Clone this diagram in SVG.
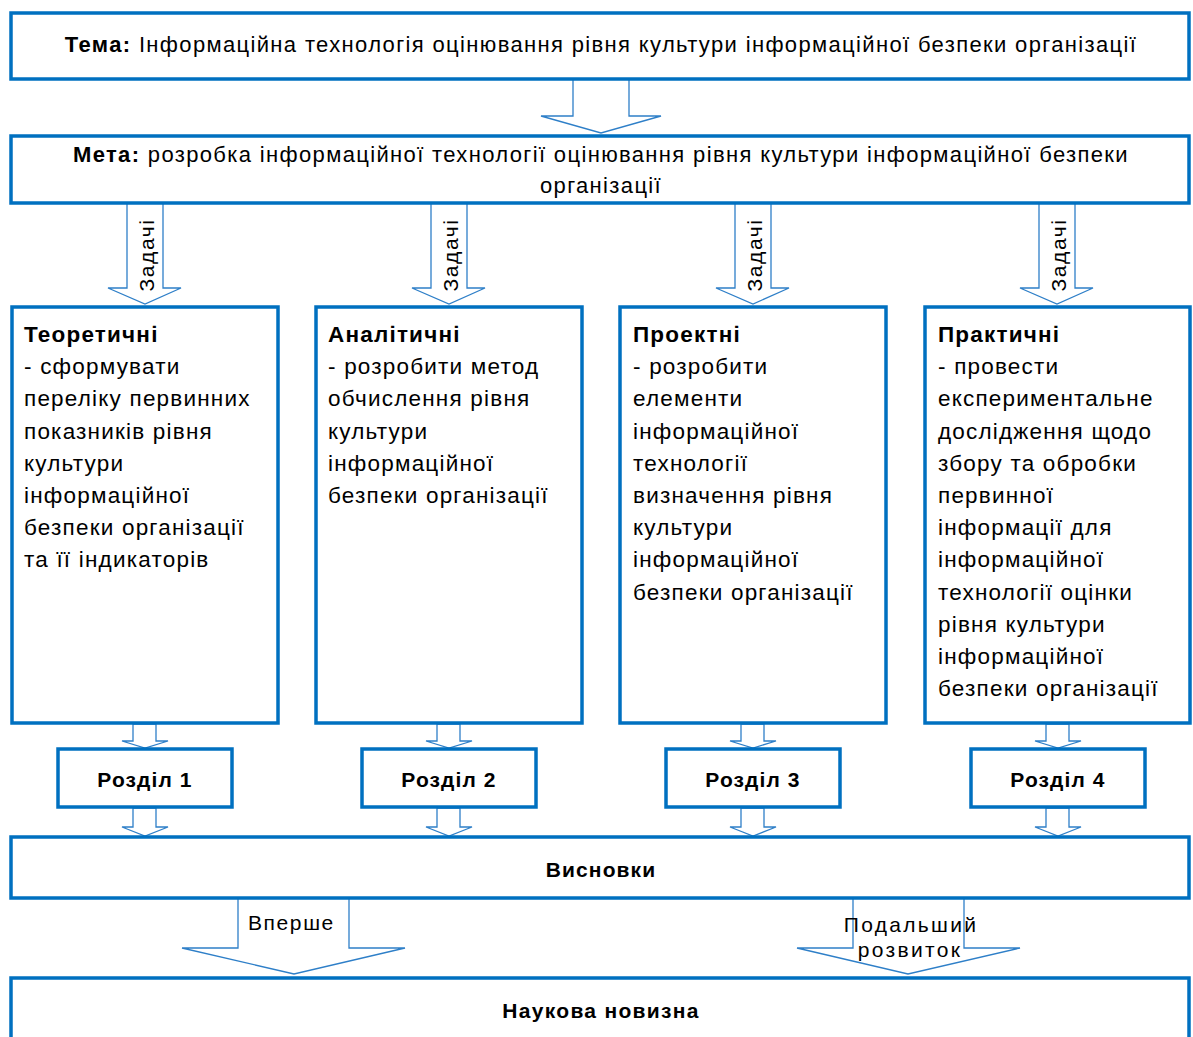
<svg xmlns="http://www.w3.org/2000/svg" width="1193" height="1037" viewBox="0 0 1193 1037">
<style>
.box{fill:#fff;stroke:#0070C0;stroke-width:3.5}
.arr{fill:#fff;stroke:#2E7FC8;stroke-width:1.3;stroke-linejoin:miter}
text{font-family:"Liberation Sans",Arial,sans-serif;fill:#000}
.t{font-size:22px;letter-spacing:1.35px}
.b{font-weight:bold}
.body{font-size:22.5px;letter-spacing:1.2px}
.sec{font-size:21px;font-weight:bold;letter-spacing:1.1px}
.lbl{font-size:21px;letter-spacing:1.6px}
.lbl2{font-size:21px;letter-spacing:2.3px}
</style>
<g id="connectors">
<polygon class="arr" points="573,79 629,79 629,116 661,116 601,133 541,116 573,116"/>
<polygon class="arr" points="127,203 163,203 163,288 181,288 145,304 108,288 127,288"/>
<polygon class="arr" points="431,203 467,203 467,288 485,288 449,304 412,288 431,288"/>
<polygon class="arr" points="735,203 771,203 771,288 789,288 753,304 716,288 735,288"/>
<polygon class="arr" points="1039,203 1075,203 1075,288 1093,288 1057,304 1020,288 1039,288"/>
<text class="lbl" transform="translate(154,255) rotate(-90)" text-anchor="middle">Задачі</text>
<text class="lbl" transform="translate(458,255) rotate(-90)" text-anchor="middle">Задачі</text>
<text class="lbl" transform="translate(762,255) rotate(-90)" text-anchor="middle">Задачі</text>
<text class="lbl" transform="translate(1066,255) rotate(-90)" text-anchor="middle">Задачі</text>
<polygon class="arr" points="133,724 156,724 156,741 168,741 145,748 122,741 133,741"/>
<polygon class="arr" points="437,724 460,724 460,741 472,741 449,748 426,741 437,741"/>
<polygon class="arr" points="741,724 764,724 764,741 776,741 753,748 730,741 741,741"/>
<polygon class="arr" points="1046,724 1069,724 1069,741 1081,741 1058,748 1035,741 1046,741"/>
<polygon class="arr" points="133,808 156,808 156,827 168,827 145,836 122,827 133,827"/>
<polygon class="arr" points="437,808 460,808 460,827 472,827 449,836 426,827 437,827"/>
<polygon class="arr" points="741,808 764,808 764,827 776,827 753,836 730,827 741,827"/>
<polygon class="arr" points="1046,808 1069,808 1069,827 1081,827 1058,836 1035,827 1046,827"/>
<polygon class="arr" points="238,898 349,898 349,948 405,948 294,974 182,948 238,948"/>
<polygon class="arr" points="853,898 964,898 964,948 1020,948 908,974 797,948 853,948"/>
<text class="lbl" x="248" y="930">Вперше</text>
<text class="lbl2" x="911" y="932" text-anchor="middle">Подальший</text>
<text class="lbl2" x="910" y="957" text-anchor="middle">розвиток</text>
</g>
<g id="tema">
<rect class="box" x="11" y="13" width="1178" height="66"/>
<text class="t" x="601" y="52" text-anchor="middle"><tspan class="b">Тема:</tspan> Інформаційна технологія оцінювання рівня культури інформаційної безпеки організації</text>
</g>
<g id="meta">
<rect class="box" x="11" y="136" width="1178" height="67"/>
<text class="t" x="601" y="162" text-anchor="middle"><tspan class="b">Мета:</tspan> розробка інформаційної технології оцінювання рівня культури інформаційної безпеки</text>
<text class="t" x="601" y="193" text-anchor="middle">організації</text>
</g>
<g id="teor">
<rect class="box" x="12" y="307" width="266" height="416"/>
<text class="body" x="24" y="342"><tspan class="b">Теоретичні</tspan><tspan x="24" dy="32.2">- сформувати</tspan><tspan x="24" dy="32.2">переліку первинних</tspan><tspan x="24" dy="32.2">показників рівня</tspan><tspan x="24" dy="32.2">культури</tspan><tspan x="24" dy="32.2">інформаційної</tspan><tspan x="24" dy="32.2">безпеки організації</tspan><tspan x="24" dy="32.2">та її індикаторів</tspan></text>
</g>
<g id="anal">
<rect class="box" x="316" y="307" width="266" height="416"/>
<text class="body" x="328" y="342"><tspan class="b">Аналітичні</tspan><tspan x="328" dy="32.2">- розробити метод</tspan><tspan x="328" dy="32.2">обчислення рівня</tspan><tspan x="328" dy="32.2">культури</tspan><tspan x="328" dy="32.2">інформаційної</tspan><tspan x="328" dy="32.2">безпеки організації</tspan></text>
</g>
<g id="proekt">
<rect class="box" x="620" y="307" width="266" height="416"/>
<text class="body" x="633" y="342"><tspan class="b">Проектні</tspan><tspan x="633" dy="32.2">- розробити</tspan><tspan x="633" dy="32.2">елементи</tspan><tspan x="633" dy="32.2">інформаційної</tspan><tspan x="633" dy="32.2">технології</tspan><tspan x="633" dy="32.2">визначення рівня</tspan><tspan x="633" dy="32.2">культури</tspan><tspan x="633" dy="32.2">інформаційної</tspan><tspan x="633" dy="32.2">безпеки організації</tspan></text>
</g>
<g id="prakt">
<rect class="box" x="925" y="307" width="265" height="416"/>
<text class="body" x="938" y="342"><tspan class="b">Практичні</tspan><tspan x="938" dy="32.2">- провести</tspan><tspan x="938" dy="32.2">експериментальне</tspan><tspan x="938" dy="32.2">дослідження щодо</tspan><tspan x="938" dy="32.2">збору та обробки</tspan><tspan x="938" dy="32.2">первинної</tspan><tspan x="938" dy="32.2">інформації для</tspan><tspan x="938" dy="32.2">інформаційної</tspan><tspan x="938" dy="32.2">технології оцінки</tspan><tspan x="938" dy="32.2">рівня культури</tspan><tspan x="938" dy="32.2">інформаційної</tspan><tspan x="938" dy="32.2">безпеки організації</tspan></text>
</g>
<g id="rozdil1"><rect class="box" x="58" y="749" width="174" height="58"/><text class="sec" x="145" y="787" text-anchor="middle">Розділ 1</text></g>
<g id="rozdil2"><rect class="box" x="362" y="749" width="174" height="58"/><text class="sec" x="449" y="787" text-anchor="middle">Розділ 2</text></g>
<g id="rozdil3"><rect class="box" x="666" y="749" width="174" height="58"/><text class="sec" x="753" y="787" text-anchor="middle">Розділ 3</text></g>
<g id="rozdil4"><rect class="box" x="971" y="749" width="174" height="58"/><text class="sec" x="1058" y="787" text-anchor="middle">Розділ 4</text></g>
<g id="vysnovky"><rect class="box" x="11" y="837" width="1178" height="61"/><text class="sec" x="601" y="877" text-anchor="middle">Висновки</text></g>
<g id="novyzna"><rect class="box" x="11" y="978" width="1178" height="80"/><text class="sec" x="601" y="1018" text-anchor="middle" style="letter-spacing:1.3px">Наукова новизна</text></g>
</svg>
